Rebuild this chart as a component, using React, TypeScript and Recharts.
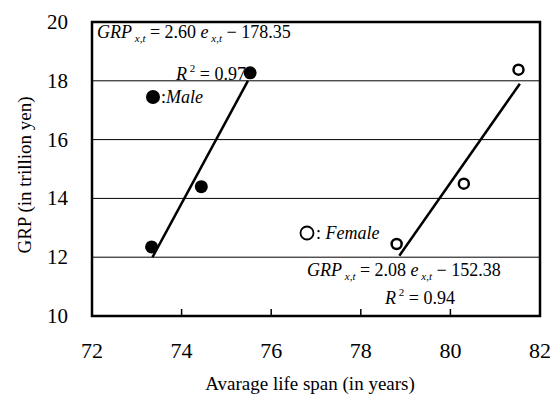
import React from "react";
import {
  ScatterChart,
  Scatter,
  XAxis,
  YAxis,
  CartesianGrid,
  ReferenceLine,
  ReferenceArea,
} from "recharts";

const malePoints = [
  { x: 73.33, y: 12.35 },
  { x: 74.44, y: 14.4 },
  { x: 75.53, y: 18.27 },
];
const femalePoints = [
  { x: 78.8, y: 12.45 },
  { x: 80.3, y: 14.5 },
  { x: 81.52, y: 18.38 },
];

// fitted line endpoints
const maleFit = [
  { x: 73.35, y: 12.0 },
  { x: 75.48, y: 18.0 },
];
const femaleFit = [
  { x: 78.86, y: 12.05 },
  { x: 81.55, y: 17.9 },
];

const xTicks = [72, 74, 76, 78, 80, 82];
const yTicks = [10, 12, 14, 16, 18, 20];
const gridValues = [12, 14, 16, 18];

const SERIF = "'Liberation Serif', 'Times New Roman', Times, serif";

const FilledDot = (props: any) => (
  <circle cx={props.cx} cy={props.cy} r={6.5} fill="#000" />
);
const OpenDot = (props: any) => (
  <circle cx={props.cx} cy={props.cy} r={5} fill="#fff" stroke="#000" strokeWidth={2.5} />
);

// bottom tick: small inward mark + label
const XTick = (props: any) => {
  const { x, payload } = props;
  const v = payload.value;
  const inner = v !== 72 && v !== 82;
  return (
    <g>
      {inner && <line x1={x} x2={x} y1={316} y2={309} stroke="#000" strokeWidth={1.5} />}
      <text x={x} y={358} textAnchor="middle" fontSize={22} fontFamily={SERIF} fill="#000">
        {v}
      </text>
    </g>
  );
};

const YTick = (props: any) => {
  const { y, payload } = props;
  return (
    <text x={68} y={y} textAnchor="end" dominantBaseline="central" fontSize={21} fontFamily={SERIF} fill="#000">
      {payload.value}
    </text>
  );
};

const Formula = ({ x, y, a, b }: { x: number; y: number; a: string; b: string }) => (
  <text x={x} y={y} fontSize={18} fontFamily={SERIF} fill="#000">
    <tspan fontStyle="italic">GRP</tspan>
    <tspan fontStyle="italic" fontSize={11} dy={4}> x,t</tspan>
    <tspan dy={-4}>{"  = " + a + " "}</tspan>
    <tspan fontStyle="italic">e</tspan>
    <tspan fontStyle="italic" fontSize={11} dy={4}> x,t</tspan>
    <tspan dy={-4}>{"  \u2212  " + b}</tspan>
  </text>
);

const RSquared = ({ x, y, v }: { x: number; y: number; v: string }) => (
  <text x={x} y={y} fontSize={18} fontFamily={SERIF} fill="#000" textAnchor="end">
    <tspan fontStyle="italic">R</tspan>
    <tspan fontSize={11} dy={-8}> 2</tspan>
    <tspan dy={8}>{" = " + v}</tspan>
  </text>
);

export default function App() {
  return (
    <div style={{ position: "absolute", left: 0, top: 0, width: 554, height: 402, background: "#fff" }}>
      <ScatterChart width={554} height={402} margin={{ top: 22, right: 14, bottom: 0, left: 0 }}>
        <CartesianGrid horizontal vertical={false} stroke="#000" strokeWidth={1} horizontalValues={gridValues} />
        <XAxis
          type="number"
          dataKey="x"
          domain={[72, 82]}
          ticks={xTicks}
          height={86}
          axisLine={false}
          tickLine={false}
          tick={<XTick />}
          interval={0}
        />
        <YAxis
          type="number"
          dataKey="y"
          domain={[10, 20]}
          ticks={yTicks}
          width={92}
          axisLine={false}
          tickLine={false}
          tick={<YTick />}
          interval={0}
        />
        {/* plot frame */}
        <ReferenceArea x1={72} x2={82} y1={10} y2={20} fill="none" fillOpacity={0} stroke="#000" strokeWidth={2.5} ifOverflow="visible" />
        <ReferenceLine segment={maleFit} stroke="#000" strokeWidth={2.5} />
        <ReferenceLine segment={femaleFit} stroke="#000" strokeWidth={2.5} />
        <Scatter data={malePoints} shape={<FilledDot />} isAnimationActive={false} />
        <Scatter data={femalePoints} shape={<OpenDot />} isAnimationActive={false} />
      </ScatterChart>
      <svg width={554} height={402} style={{ position: "absolute", left: 0, top: 0, pointerEvents: "none" }}>
        <Formula x={97} y={38} a="2.60" b="178.35" />
        <RSquared x={246} y={80} v="0.97" />
        <circle cx={153} cy={97} r={7} fill="#000" />
        <text x={161} y={103} fontSize={18} fontFamily={SERIF}>
          <tspan>:</tspan>
          <tspan fontStyle="italic">Male</tspan>
        </text>
        <circle cx={307} cy={233} r={6.5} fill="#fff" stroke="#000" strokeWidth={1.8} />
        <text x={316} y={239} fontSize={18} fontFamily={SERIF}>
          <tspan>:</tspan>
          <tspan fontStyle="italic"> Female</tspan>
        </text>
        <Formula x={307} y={276} a="2.08" b="152.38" />
        <RSquared x={455} y={304} v="0.94" />
        <text
          x={24}
          y={175}
          transform="rotate(-90 24 175)"
          textAnchor="middle"
          dominantBaseline="central"
          fontSize={19}
          fontFamily={SERIF}
        >
          {"GRP   (in trillion yen)"}
        </text>
        <text x={310} y={390} textAnchor="middle" fontSize={19} fontFamily={SERIF}>
          {"Avarage life span   (in years)"}
        </text>
      </svg>
    </div>
  );
}
